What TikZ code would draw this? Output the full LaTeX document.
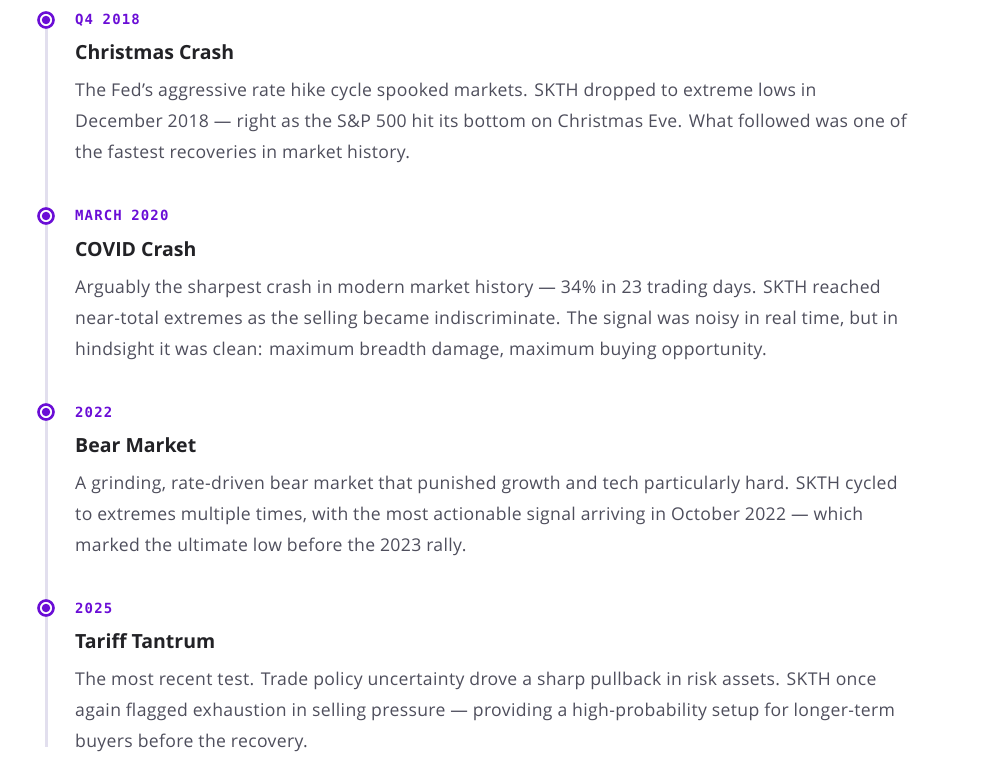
\documentclass[tikz,border=0pt]{standalone}
\usepackage{fontspec}
\setmainfont{Open Sans}
\newfontfamily\bodyfont[LetterSpace=2.0]{Open Sans}
\newfontfamily\datefont[LetterSpace=8.0]{DejaVu Sans Mono}
\usepackage{xcolor}
\usetikzlibrary{positioning, calc}

\definecolor{evpurple}{HTML}{6A0DD6}
\definecolor{evrail}{HTML}{E2DFEE}
\definecolor{evtitle}{HTML}{222226}
\definecolor{evbody}{HTML}{4E4E5C}

\tikzset{
    dot/.style={circle, draw=evpurple, line width=2.6pt, fill=white, minimum size=15pt, inner sep=0pt},
    dotcore/.style={circle, fill=evpurple, minimum size=8.5pt, inner sep=0pt},
    datelabel/.style={anchor=base west, inner sep=0pt, text=evpurple, font=\datefont\bfseries\fontsize{14}{15}\selectfont},
    headline/.style={anchor=base west, inner sep=0pt, text=evtitle, font=\bfseries\fontsize{19.5}{20}\selectfont},
    bodyline/.style={anchor=base west, inner sep=0pt, text=evbody, font=\bodyfont\fontsize{17.6}{18}\selectfont}
}

\begin{document}
\begin{tikzpicture}[x=1pt, y=-1pt]
        \useasboundingbox (0,0) rectangle (982,770);

        % rail
        \coordinate (top) at (46,28);
        \coordinate (bot) at (46,747);
        \draw[evrail, line width=3pt] (top) -- (bot);

        % Q4 2018
        \node[dot] (d1) at (46,20) {};
        \node[dotcore] at (d1) {};
        \node[datelabel] (date1) at (75,25) {Q4 2018};
        \node[headline] (head1) at (75,60) {Christmas Crash};
        \node[bodyline] (b1a) at (75,97) {The Fed’s aggressive rate hike cycle spooked markets. SKTH dropped to extreme lows in};
        \node[bodyline] (b1b) at (75,128) {December 2018 — right as the S\&P 500 hit its bottom on Christmas Eve. What followed was one of};
        \node[bodyline] (b1c) at (75,159) {the fastest recoveries in market history.};

        % March 2020
        \node[dot] (d2) at (46,216) {};
        \node[dotcore] at (d2) {};
        \node[datelabel] (date2) at (75,221) {MARCH 2020};
        \node[headline] (head2) at (75,256) {COVID Crash};
        \node[bodyline] (b2a) at (75,293) {Arguably the sharpest crash in modern market history — 34\% in 23 trading days. SKTH reached};
        \node[bodyline] (b2b) at (75,324) {near-total extremes as the selling became indiscriminate. The signal was noisy in real time, but in};
        \node[bodyline] (b2c) at (75,355) {hindsight it was clean: maximum breadth damage, maximum buying opportunity.};

        % 2022
        \node[dot] (d3) at (46,412) {};
        \node[dotcore] at (d3) {};
        \node[datelabel] (date3) at (75,417) {2022};
        \node[headline] (head3) at (75,452) {Bear Market};
        \node[bodyline] (b3a) at (75,489) {A grinding, rate-driven bear market that punished growth and tech particularly hard. SKTH cycled};
        \node[bodyline] (b3b) at (75,520) {to extremes multiple times, with the most actionable signal arriving in October 2022 — which};
        \node[bodyline] (b3c) at (75,551) {marked the ultimate low before the 2023 rally.};

        % 2025
        \node[dot] (d4) at (46,608) {};
        \node[dotcore] at (d4) {};
        \node[datelabel] (date4) at (75,613) {2025};
        \node[headline] (head4) at (75,648) {Tariff Tantrum};
        \node[bodyline] (b4a) at (75,685) {The most recent test. Trade policy uncertainty drove a sharp pullback in risk assets. SKTH once};
        \node[bodyline] (b4b) at (75,716) {again flagged exhaustion in selling pressure — providing a high-probability setup for longer-term};
        \node[bodyline] (b4c) at (75,747) {buyers before the recovery.};
    \end{tikzpicture}
\end{document}
